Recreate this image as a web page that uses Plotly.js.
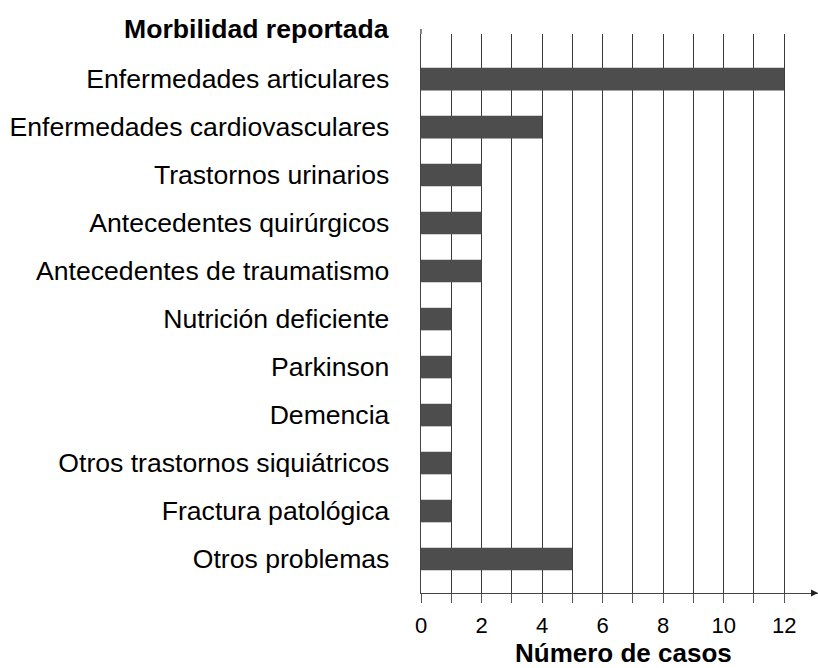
<!DOCTYPE html>
<html>
<head>
<meta charset="utf-8">
<script src="https://cdn.plot.ly/plotly-3.0.1.min.js"></script>
<style>html,body{margin:0;padding:0;background:#fff;}#chart{width:818px;height:668px;}</style>
</head>
<body>
<div id="chart"></div>
<script>
const categories = [
  "Enfermedades articulares",
  "Enfermedades cardiovasculares",
  "Trastornos urinarios",
  "Antecedentes quirúrgicos",
  "Antecedentes de traumatismo",
  "Nutrición deficiente",
  "Parkinson",
  "Demencia",
  "Otros trastornos siquiátricos",
  "Fractura patológica",
  "Otros problemas"
];
const casos = [12, 4, 2, 2, 2, 1, 1, 1, 1, 1, 5];
const xTickValues = [0, 2, 4, 6, 8, 10, 12];
const xMinorTickValues = [1, 3, 5, 7, 9, 11];
const headerText = "Morbilidad reportada";
const xTitleText = "Número de casos";

const FONT = "Liberation Sans, Arial, sans-serif";
const W = 818, H = 668;
const mL = 421, mR = 0, mT = 34, mB = 75;
const plotW = W - mL - mR, plotH = H - mT - mB;
const pxPerUnit = 30.27;
const xMax = plotW / pxPerUnit;

const trace = {
  type: "bar",
  orientation: "h",
  x: casos,
  y: categories,
  marker: { color: "#4d4d4d", line: { width: 0 } },
  hoverinfo: "x+y"
};

const layout = {
  width: W, height: H,
  margin: { l: mL, r: mR, t: mT, b: mB, pad: 0 },
  paper_bgcolor: "#ffffff",
  plot_bgcolor: "#ffffff",
  showlegend: false,
  bargap: 0.53,
  font: { family: FONT, color: "#000000" },
  xaxis: {
    range: [0, xMax],
    tickmode: "array",
    tickvals: xTickValues,
    ticks: "outside",
    ticklen: 9,
    tickwidth: 1,
    tickcolor: "#555555",
    ticklabelstandoff: 3,
    tickfont: { family: FONT, size: 22, color: "#000000" },
    showgrid: true,
    gridcolor: "#3a3a3a",
    gridwidth: 1,
    minor: { tickmode: "array", tickvals: xMinorTickValues, showgrid: true, gridcolor: "#3a3a3a", gridwidth: 1, ticks: "outside", ticklen: 9, tickcolor: "#555555" },
    zeroline: false,
    showline: true,
    linecolor: "#444444",
    linewidth: 1.3,
    fixedrange: true
  },
  yaxis: {
    type: "category",
    categoryorder: "array",
    categoryarray: categories,
    range: [10.708, -0.94],
    ticks: "",
    ticklabelstandoff: 25,
    tickfont: { family: FONT, size: 26.6, color: "#000000" },
    showgrid: false,
    zeroline: false,
    showline: true,
    linecolor: "#444444",
    linewidth: 1.3,
    fixedrange: true
  },
  annotations: [
    {
      text: "<b>" + headerText + "</b>",
      xref: "paper", yref: "paper",
      x: 0, y: 1, xanchor: "right", yanchor: "middle",
      xshift: -30, yshift: 5,
      showarrow: false,
      font: { family: FONT, size: 26.6, color: "#000000" }
    },
    {
      text: "<b>" + xTitleText + "</b>",
      xref: "paper", yref: "paper",
      x: 0.5, y: 0, xanchor: "center", yanchor: "middle",
      xshift: 4, yshift: -60,
      showarrow: false,
      font: { family: FONT, size: 26, color: "#000000" }
    }
  ],
  shapes: [
    {
      type: "line", xref: "paper", yref: "paper",
      x0: 0, x1: 0, y0: 1, y1: 1 + 5 / plotH,
      line: { color: "#444444", width: 1.3 }
    },
    {
      type: "path", xref: "paper", yref: "paper",
      path: "M " + (1 - 7 / plotW) + " " + (3.5 / plotH) + " L 1 0 L " + (1 - 7 / plotW) + " " + (-3.5 / plotH) + " Z",
      fillcolor: "#222222",
      line: { color: "#222222", width: 0 }
    }
  ]
};

Plotly.newPlot("chart", [trace], layout, { displayModeBar: false, staticPlot: true });
</script>
</body>
</html>
